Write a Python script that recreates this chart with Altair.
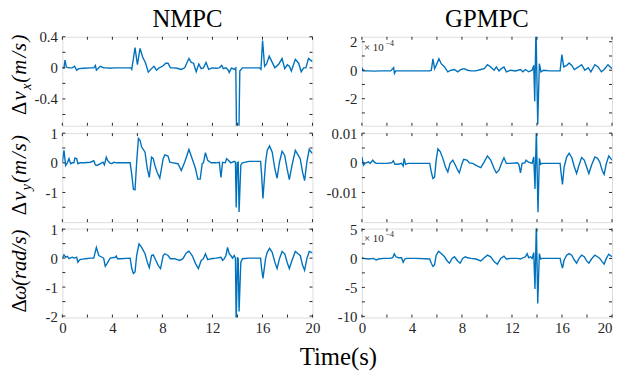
import altair as alt
import pandas as pd

FONT = "Liberation Serif"
BLUE = "#0072BD"
AXC = "#262626"
W, H = 253, 90

# ---------------- data (time s, value) ----------------
nmpc_vx = [(0,0),(0.13,0),(0.21,0.10),(0.32,0.01),(0.53,0),(0.79,0),(0.98,0.02),(1.14,-0.03),(1.32,-0.01),
           (1.72,-0.005),(2.25,0),(2.51,0),(2.64,0.03),(2.72,-0.03),(2.91,0),(3.04,0.02),(3.30,0),(3.57,0),
           (3.83,-0.005),(4.10,0),(4.62,0),(5.15,0),(5.47,0),(5.55,-0.02),(5.81,0.26),(6.00,0.04),(6.21,0.25),
           (6.42,0.14),(6.66,0.06),(6.87,-0.055),(7.13,-0.01),(7.32,0.02),(7.53,-0.03),(7.74,0),(8.01,0.02),
           (8.27,0.06),(8.45,0.06),(8.64,0),(8.90,0),(9.17,-0.005),(9.51,-0.02),(9.78,0),(10.12,0.12),
           (10.30,0.07),(10.49,0.06),(10.70,-0.05),(10.91,0.05),(11.10,-0.01),(11.28,0),(11.49,0.07),
           (11.70,-0.02),(11.97,0),(12.29,-0.005),(12.55,0),(12.74,0.03),(12.87,-0.01),(13.08,0),
           (13.27,-0.03),(13.34,-0.06),(13.53,0),(13.74,-0.02),(13.87,0),(13.95,-1.2),(14.08,-1.2),
           (14.19,-0.04),(14.40,0),(15.19,0),(15.77,0),(15.88,-0.02),(16.01,0.35),(16.17,0.02),(16.33,0.05),
           (16.54,0.15),(16.78,0.07),(16.99,0),(17.31,0.05),(17.57,0.12),(17.78,-0.01),(17.99,0.04),
           (18.15,0.02),(18.31,-0.04),(18.63,0.11),(18.89,0.06),(19.10,-0.05),(19.29,0),(19.47,0),
           (19.68,0.12),(20.0,0.08)]

gpmpc_vx = [(0,0.2),(0.1,-0.05),(0.5,-0.05),(1.0,-0.06),(1.5,-0.05),(2.3,-0.05),(2.54,0.18),(2.6,-0.23),
            (2.7,-0.05),(3.5,-0.05),(4.5,-0.05),(5.42,-0.05),(5.55,0),(5.68,0.8),(5.81,0.11),(5.94,0.34),
            (6.16,0.80),(6.34,0.46),(6.61,0.23),(6.87,-0.11),(7.13,0),(7.40,0.05),(7.66,-0.11),(7.93,0.05),
            (8.19,0.11),(8.45,0),(8.72,-0.05),(9.11,-0.05),(9.51,0.05),(9.78,0.11),(10.04,0.39),(10.30,0.23),
            (10.57,0),(10.75,0.23),(10.96,-0.05),(11.15,0.11),(11.36,0.23),(11.55,-0.11),(11.89,0),
            (12.29,-0.05),(12.68,0.05),(12.87,-0.11),(13.08,0.05),(13.34,-0.11),(13.61,0),(13.74,0.34),
            (13.82,-2.18),(13.92,3.0),(14.06,-3.79),(14.19,0.46),(14.32,-0.11),(14.53,0),(15.0,-0.05),
            (15.85,-0.05),(15.99,1.10),(16.14,0.23),(16.38,0.34),(16.57,0.51),(16.78,0.34),(16.99,0.05),
            (17.31,0.23),(17.57,0.39),(17.83,0),(18.10,0.18),(18.31,-0.11),(18.63,0.39),(18.89,0.23),
            (19.15,-0.11),(19.37,0.05),(19.68,0.39),(20.0,0.11)]

nmpc_vy = [(0,0.02),(0.13,0.42),(0.26,-0.09),(0.40,0),(0.53,0.14),(0.66,-0.03),(0.79,0),(0.92,0),(1.00,0.16),
           (1.14,0.14),(1.24,-0.03),(1.40,0),(1.72,0),(2.25,0.02),(2.51,0.07),(2.64,-0.07),(2.77,-0.09),
           (3.04,-0.03),(3.25,0.02),(3.36,-0.07),(3.51,0.19),(3.62,0.08),(3.78,0),(3.96,-0.03),(4.10,0.02),
           (4.36,0),(5.42,0),(5.55,-0.4),(5.68,-0.89),(5.81,-0.91),(5.94,0.02),(6.08,0.82),(6.21,0.76),
           (6.34,0.53),(6.61,0.36),(6.79,-0.2),(6.95,-0.49),(7.13,0.19),(7.27,0.14),(7.40,-0.09),(7.58,-0.32),
           (7.79,-0.52),(8.06,0.14),(8.19,0.27),(8.45,0.23),(8.59,0.02),(8.85,0),(9.25,-0.03),(9.51,-0.26),
           (9.78,0.02),(10.12,0.45),(10.38,0.14),(10.65,-0.2),(10.83,-0.55),(11.02,-0.55),(11.18,-0.03),
           (11.28,0),(11.44,0.34),(11.62,0.08),(11.89,0),(12.29,0),(12.55,0.02),(12.68,-0.49),(12.81,0.02),
           (13.03,0),(13.13,0.14),(13.29,0.08),(13.47,0),(13.74,0.05),(13.84,0.02),(13.90,-1.51),(13.98,0),
           (14.06,0.02),(14.13,-1.66),(14.27,-0.07),(14.40,0),(14.93,0.05),(15.85,0.05),(15.93,-0.38),
           (16.04,-1.2),(16.25,0.02),(16.38,0.42),(16.57,0.57),(16.78,0.36),(16.99,-0.2),(17.17,-0.52),
           (17.36,0.02),(17.57,0.39),(17.78,0.25),(17.97,-0.2),(18.15,-0.57),(18.36,-0.09),(18.63,0.42),
           (18.84,0.27),(19.02,0.14),(19.21,-0.32),(19.37,-0.6),(19.55,0.02),(19.74,0.45),(20.0,0.31)]

gpmpc_vy = [(0,0.002),(0.13,-0.0008),(0.26,-0.0002),(0.53,0.0003),(0.66,-0.0002),(0.87,0.0009),(0.98,0.0003),
            (1.14,-0.0002),(1.45,-0.0002),(1.98,-0.0002),(2.38,0),(2.51,0.0007),(2.64,-0.0005),(2.91,-0.0005),
            (3.17,-0.0002),(3.30,-0.0011),(3.38,0.0015),(3.49,-0.0005),(3.70,-0.0002),(5.42,-0.0002),
            (5.55,-0.0031),(5.68,-0.0053),(5.81,-0.0048),(5.94,0.0009),(6.08,0.0047),(6.26,0.0038),
            (6.47,0.0015),(6.68,-0.0014),(6.87,-0.0031),(7.05,-0.0002),(7.27,0.0009),(7.48,-0.0008),
            (7.66,-0.0025),(7.79,-0.0034),(8.01,-0.0002),(8.14,0.0012),(8.40,0.0009),(8.59,0),(8.85,-0.0002),
            (9.25,-0.0011),(9.51,-0.0016),(9.78,0.0003),(10.04,0.0023),(10.30,0.0009),(10.57,-0.0019),
            (10.75,-0.0034),(10.96,-0.0025),(11.18,0),(11.36,0.0017),(11.55,-0.0002),(11.89,-0.0002),
            (12.42,0),(12.55,-0.0005),(12.68,-0.0034),(12.81,-0.0002),(13.03,0),(13.13,0.0009),(13.29,0.0003),
            (13.61,-0.0002),(13.74,0.002),(13.84,-0.0088),(13.95,0.011),(14.08,-0.0167),(14.19,0.0015),
            (14.29,-0.0005),(14.40,-0.0002),(15.85,-0.0002),(15.93,-0.0036),(16.04,-0.0073),(16.17,-0.0014),
            (16.38,0.0020),(16.57,0.0032),(16.78,0.0018),(16.99,-0.0014),(17.17,-0.0036),(17.36,-0.0008),
            (17.57,0.0018),(17.78,0.0009),(17.97,-0.0014),(18.15,-0.0036),(18.36,-0.0008),(18.63,0.002),
            (18.84,0.0015),(19.02,0.0003),(19.21,-0.0025),(19.37,-0.0039),(19.55,-0.0002),(19.74,0.0023),
            (20.0,0.0009)]

nmpc_w = [(0,0),(0.13,0.11),(0.26,0.03),(0.40,0.06),(0.53,-0.02),(0.79,0.03),(0.98,0),(1.14,0.03),(1.24,-0.14),
          (1.40,-0.05),(1.85,-0.02),(2.25,0),(2.51,0),(2.72,0.37),(2.91,0.09),(3.17,0.03),(3.30,0),(3.43,-0.28),
          (3.57,-0.19),(3.83,0),(4.23,0.03),(4.31,0.07),(4.41,-0.02),(4.62,-0.02),(5.42,0),(5.55,-0.36),
          (5.68,-0.53),(5.81,-0.48),(5.94,0.09),(6.13,0.49),(6.34,0.37),(6.61,0.15),(6.79,-0.14),(6.95,-0.33),
          (7.13,0.09),(7.27,0.11),(7.48,-0.08),(7.66,-0.25),(7.85,-0.36),(8.06,0.09),(8.19,0.15),(8.45,0.09),
          (8.64,-0.02),(8.98,-0.02),(9.38,-0.08),(9.64,-0.02),(9.91,0.18),(10.12,0.24),(10.38,0.09),
          (10.65,-0.19),(10.88,-0.36),(11.10,-0.08),(11.28,-0.02),(11.44,0.15),(11.62,-0.05),(11.89,-0.02),
          (12.29,0),(12.68,0.03),(12.81,-0.08),(12.95,-0.02),(13.08,0.09),(13.21,0.37),(13.34,0.15),
          (13.47,0.09),(13.61,0),(13.74,0.09),(13.84,0),(13.90,-2.3),(14.00,0.03),(14.06,-0.02),(14.13,-1.84),
          (14.27,-0.14),(14.40,-0.02),(14.93,0),(15.85,0),(15.93,-0.36),(16.04,-0.70),(16.25,-0.02),
          (16.38,0.2),(16.57,0.34),(16.78,0.2),(16.99,-0.14),(17.17,-0.36),(17.36,-0.02),(17.57,0.23),
          (17.78,0.15),(17.97,-0.14),(18.15,-0.36),(18.36,-0.08),(18.63,0.23),(18.84,0.15),(19.02,0.09),
          (19.21,-0.25),(19.37,-0.42),(19.55,-0.02),(19.74,0.23),(20.0,0.18)]

gpmpc_w = [(0,0.11),(0.13,0),(0.53,-0.11),(0.92,0),(1.14,-0.28),(1.32,-0.11),(1.72,0),(2.25,0),(2.46,0.11),
           (2.59,0.78),(2.72,0.28),(2.91,0.11),(3.17,0.11),(3.30,-0.67),(3.43,-0.11),(3.57,0),(4.36,0),
           (5.42,-0.11),(5.55,-0.83),(5.68,-1.39),(5.81,-1.11),(5.94,0.56),(6.13,1.22),(6.34,0.83),(6.61,0.28),
           (6.82,-0.44),(7.00,-0.83),(7.21,0),(7.40,0.28),(7.66,-0.44),(7.85,-0.83),(8.06,0),(8.27,0.28),
           (8.45,0.11),(8.72,0),(9.11,-0.11),(9.51,-0.44),(9.78,0.11),(10.04,0.56),(10.30,0.28),(10.57,-0.56),
           (10.83,-1.0),(11.10,0),(11.36,0.39),(11.55,-0.11),(11.89,0),(12.42,0),(12.68,-0.11),(12.87,0.11),
           (13.08,0.28),(13.21,0.83),(13.34,0.11),(13.47,0.28),(13.61,0),(13.74,1.0),(13.84,-5.28),(13.95,6.0),
           (14.06,-7.78),(14.19,0.83),(14.29,-0.11),(14.40,0),(15.85,0),(15.93,-0.83),(16.04,-1.67),
           (16.17,-0.28),(16.38,0.56),(16.57,0.83),(16.78,0.56),(16.99,-0.28),(17.17,-0.83),(17.36,0),
           (17.57,0.56),(17.78,0.28),(17.97,-0.44),(18.15,-0.83),(18.36,-0.11),(18.63,0.56),(18.84,0.28),
           (19.02,0),(19.21,-0.56),(19.37,-1.0),(19.55,0),(19.74,0.72),(20.0,0.28)]

x_ticks = [0, 2, 4, 6, 8, 10, 12, 14, 16, 18, 20]
x_labels = [0, 4, 8, 12, 16, 20]

# y domains, tick values, labelled ticks (value, text)
dom_vx_n = [-0.745, 0.4]
tk_vx_n = [0.4, 0.2, 0, -0.2, -0.4, -0.6]
lb_vx_n = [(0.4, "0.4"), (0, "0"), (-0.4, "-0.4")]
dom_vx_g = [-3.9, 2.35]
tk_vx_g = [2, 1, 0, -1, -2, -3]
lb_vx_g = [(2, "2"), (0, "0"), (-2, "-2")]
dom_vy_n = [-2, 1]
tk_vy_n = [1, 0.5, 0, -0.5, -1, -1.5]
lb_vy_n = [(1, "1"), (0, "0"), (-1, "-1")]
dom_vy_g = [-0.02, 0.01]
tk_vy_g = [0.01, 0.005, 0, -0.005, -0.01, -0.015]
lb_vy_g = [(0.01, "0.01"), (0, "0"), (-0.01, "-0.01")]
dom_w_n = [-2.05, 1.02]
tk_w_n = [1, 0.5, 0, -0.5, -1, -1.5, -2]
lb_w_n = [(1, "1"), (0, "0"), (-1, "-1"), (-2, "-2")]
dom_w_g = [-10.2, 5.15]
tk_w_g = [5, 2.5, 0, -2.5, -5, -7.5, -10]
lb_w_g = [(5, "5"), (0, "0"), (-5, "-5"), (-10, "-10")]

EM = {"Δ": 0.612, "v": 0.444, "x": 0.444, "y": 0.444, "ω": 0.667, "(": 0.333, ")": 0.333,
      "m": 0.722, "/": 0.278, "s": 0.389, "r": 0.389, "a": 0.5, "d": 0.5}


def ylabel_layers(pieces, center, mult):
    items = []
    for text, size, style, sub in pieces:
        for ch in text:
            items.append((ch, size, style, sub))
    adv = [EM[c] * s * mult for c, s, st, sub in items]
    total = sum(adv)
    pos = center + total / 2
    layers = []
    for (ch, size, style, sub), a in zip(items, adv):
        layers.append(
            alt.Chart(pd.DataFrame({"s": [ch]})).mark_text(
                angle=270, align="left", baseline="alphabetic", font=FONT,
                fontSize=size, fontStyle=style, color="black"
            ).encode(text="s:N", x=alt.value(-37 + (5 if sub else 0)), y=alt.value(pos))
        )
        pos -= a
    return layers


def panel(series, dom, ticks, labels, xlab, ylabel, extent, title=None, exp=False, flush_last=False):
    df = pd.DataFrame(series, columns=["t", "v"])
    xs = alt.Scale(domain=[0, 20], nice=False, zero=False)
    ys = alt.Scale(domain=dom, nice=False, zero=False)
    expr = " : ".join(f"datum.value == {v} ? '{s}'" for v, s in labels) + " : ''"
    if xlab:
        align = ({"condition": {"test": "datum.value == 20", "value": "right"}, "value": "center"}
                 if flush_last else "center")
        xaxis = alt.Axis(values=x_labels, ticks=False, domain=False, grid=False, title=None,
                         labelFont=FONT, labelFontSize=15, labelColor=AXC, labelPadding=3,
                         labelOverlap=False, labelFlush=False, labelAlign=align)
    else:
        xaxis = None
    yaxis = alt.Axis(values=[v for v, _ in labels], labelExpr=expr, ticks=False, domain=False,
                     grid=False, title=None, labelFont=FONT, labelFontSize=15, labelColor=AXC,
                     labelPadding=5, minExtent=extent, maxExtent=extent, labelOverlap=False)
    X = lambda f: alt.X(f, scale=xs, axis=xaxis)
    Y = lambda f: alt.Y(f, scale=ys, axis=yaxis)
    line = alt.Chart(df).mark_line(color=BLUE, strokeWidth=1.4, clip=True).encode(
        x=X("t:Q"), y=Y("v:Q"))
    ydf = pd.DataFrame({"v": ticks})
    xdf = pd.DataFrame({"t": x_ticks})
    tl = 3
    rules = [
        alt.Chart(ydf).mark_rule(color=AXC, strokeWidth=1).encode(
            y=Y("v:Q"), x=alt.value(0), x2=alt.value(tl)),
        alt.Chart(ydf).mark_rule(color=AXC, strokeWidth=1).encode(
            y=Y("v:Q"), x=alt.value(W - tl), x2=alt.value(W)),
        alt.Chart(xdf).mark_rule(color=AXC, strokeWidth=1).encode(
            x=X("t:Q"), y=alt.value(0), y2=alt.value(tl)),
        alt.Chart(xdf).mark_rule(color=AXC, strokeWidth=1).encode(
            x=X("t:Q"), y=alt.value(H - tl), y2=alt.value(H)),
    ]
    layers = [line] + rules + ylabel
    if exp:
        layers.append(alt.Chart(pd.DataFrame({"s": ["× 10"]})).mark_text(
            align="left", baseline="alphabetic", font=FONT, fontSize=11, color=AXC
        ).encode(text="s:N", x=alt.value(2), y=alt.value(14)))
        layers.append(alt.Chart(pd.DataFrame({"s": ["−4"]})).mark_text(
            align="left", baseline="alphabetic", font=FONT, fontSize=8, color=AXC
        ).encode(text="s:N", x=alt.value(24), y=alt.value(9)))
    if title:
        layers.append(alt.Chart(pd.DataFrame({"s": [title]})).mark_text(
            align="center", baseline="alphabetic", font=FONT, fontSize=25, color="black"
        ).encode(text="s:N", x=alt.value(W / 2), y=alt.value(-10)))
    return alt.layer(*layers).properties(width=W, height=H)


lab_vx = [("Δ", 21, "normal", False), ("v", 21, "italic", False), ("x", 14, "italic", True),
          ("(m/s)", 21, "italic", False)]
lab_vy = [("Δ", 21, "normal", False), ("v", 21, "italic", False), ("y", 14, "italic", True),
          ("(m/s)", 21, "italic", False)]
lab_w = [("Δ", 21, "normal", False), ("ω", 21, "italic", False), ("(rad/s)", 21, "italic", False)]

EL, ER = 36, 28.5
p1 = panel(nmpc_vx, dom_vx_n, tk_vx_n, lb_vx_n, False, ylabel_layers(lab_vx, 38, 1.15), EL, title="NMPC")
p2 = panel(gpmpc_vx, dom_vx_g, tk_vx_g, lb_vx_g, False, [], ER, title="GPMPC", exp=True)
p3 = panel(nmpc_vy, dom_vy_n, tk_vy_n, lb_vy_n, False, ylabel_layers(lab_vy, 42, 1.15), EL)
p4 = panel(gpmpc_vy, dom_vy_g, tk_vy_g, lb_vy_g, False, [], ER)
p5 = panel(nmpc_w, dom_w_n, tk_w_n, lb_w_n, True, ylabel_layers(lab_w, 43, 1.0), EL)
p6 = panel(gpmpc_w, dom_w_g, tk_w_g, lb_w_g, True, [], ER, exp=True, flush_last=True)

chart = alt.concat(p1, p2, p3, p4, p5, p6, columns=2, spacing={"row": -1.5, "column": 5}).properties(
    title=alt.TitleParams("Time(s)", orient="bottom", anchor="middle", font=FONT, fontSize=25,
                          fontWeight="normal", color="black", baseline="alphabetic", offset=30, dx=28),
    padding={"left": 0, "top": -4, "right": 0, "bottom": -2},
).configure_view(stroke=AXC, strokeWidth=1).configure(background="white")

chart.save("out.html", embed_options={"renderer": "svg", "actions": False})
